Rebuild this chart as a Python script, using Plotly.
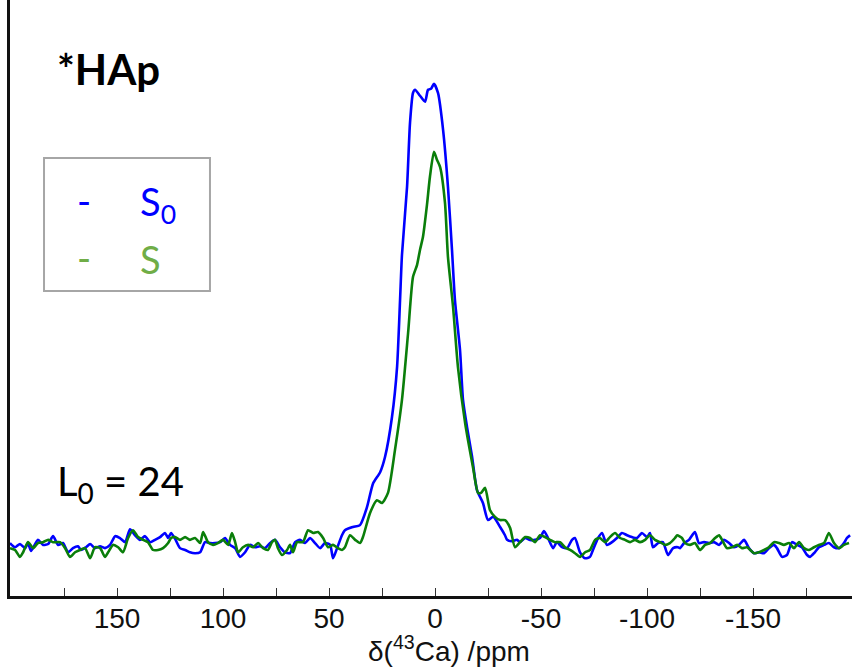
import plotly.graph_objects as go

# Blue series S0: chemical shift (ppm) and intensity (%, peak = 100)
s0_ppm = [200.5, 198.1, 195.8, 193.4, 192.0, 190.6, 187.3, 184.9, 182.5, 180.2, 177.8, 175.5, 173.1, 170.8,
          168.4, 167.0, 164.6, 162.7, 160.4, 158.0, 155.7, 153.3, 150.9, 148.6, 146.2, 143.9, 141.5, 139.2,
          136.8, 134.4, 132.1, 129.7, 127.4, 125.9, 124.5, 122.6, 120.3, 117.9, 115.6, 113.2, 110.8, 108.5,
          106.1, 103.8, 101.4, 99.1, 96.7, 94.3, 92.0, 89.6, 87.3, 84.9, 82.5, 80.2, 77.8, 75.5, 73.1, 70.8,
          68.4, 66.0, 63.7, 61.3, 59.0, 56.6, 54.2, 51.9, 49.5, 48.1, 46.2, 43.9, 42.5, 38.7, 35.4, 32.1,
          29.2, 25.9, 23.6, 20.3, 17.9, 16.5, 15.6, 13.2, 11.8, 10.4, 9.4, 7.1, 4.7, 3.3, 1.9, 0.5, -1.4,
          -3.8, -6.1, -8.0, -9.4, -11.8, -13.2, -15.1, -17.5, -19.8, -22.6, -25.0, -27.4, -30.7, -33.0,
          -34.0, -36.3, -38.7, -40.1, -42.5, -44.8, -47.2, -49.5, -51.4, -53.3, -55.7, -57.5, -59.9, -62.3,
          -64.6, -66.0, -68.4, -70.8, -73.1, -74.5, -76.9, -78.8, -81.1, -83.5, -85.8, -88.2, -90.6, -92.9,
          -95.3, -97.6, -100.0, -101.4, -102.8, -105.2, -107.5, -109.9, -112.3, -114.6, -115.6, -117.5,
          -119.8, -122.6, -124.5, -126.9, -129.2, -131.6, -134.0, -136.3, -138.7, -141.0, -143.4, -145.8,
          -148.1, -150.5, -152.8, -155.2, -157.5, -159.9, -161.3, -163.7, -166.0, -168.4, -170.8, -173.1,
          -175.5, -176.9, -179.2, -181.1, -183.5, -185.8, -188.2, -190.6, -192.9, -194.3, -195.8]
s0_int = [0, -0.9, -0.2, -1.1, 0, -1.7, 0.7, -0.4, -0.2, 1.5, -0.4, 0, -2.0, -1.1,
          -0.7, -1.5, -0.9, -0.2, -1.1, -0.7, -1.1, -0.4, 1.5, 1.1, 0.2, 3.0, 1.7, 0.7,
          1.5, 0.2, 0.7, 1.3, 2.2, 1.1, 2.2, 0.9, -1.1, -1.5, -2.0, -2.2, -2.0, 0.2,
          0, 0, 0.2, 1.1, -0.4, -1.1, -3.0, -2.0, -0.4, -0.9, -0.7, -1.1, 0, 0.7, -0.9, -2.0,
          -2.2, 0.2, 0.7, 0, 1.1, 0, -1.1, 0, -0.4, -3.3, -1.1, 1.7, 2.8, 3.5, 3.9, 7.8,
          13.0, 15.4, 18.7, 27.4, 38.3, 52.8, 62.6, 77.4, 91.3, 97.8, 98.5, 97.2, 95.9, 98.5, 98.7, 99.8, 97.8,
          89.8, 77.4, 63.7, 52.8, 41.9, 31.1, 25.2, 18.7, 11.5, 8.7, 5.0, 5.7, 3.5, 1.7,
          0.7, 0.4, 0.7, 0.2, 1.1, 0.7, 0.7, 1.1, 2.6, 1.1, -1.1, 0.2, -0.9, -1.1,
          0.7, 1.1, -2.0, -3.3, -3.0, -1.5, 1.1, 2.2, -0.4, 0.2, 1.1, 2.2, 1.7, 1.3,
          1.1, 2.2, 1.3, 2.2, -0.9, 0, 0.2, -2.6, -1.1, -0.9, -1.1, 0,
          0.7, 2.4, 0, 0.2, 0, 0.2, -0.4, 0.7, 0, -0.9, -0.4, 0.7,
          -1.1, -2.2, -2.0, -2.2, -1.1, -0.4, -1.1, -3.0, -2.6, 0.2, -0.4, -0.9,
          -2.6, -3.0, -2.0, -0.9, -0.4, 0, -0.9, -1.1, 0, 1.1, 1.7]

# Green series S
s_ppm = [200.5, 198.1, 195.8, 194.3, 192.0, 189.6, 187.3, 184.9, 182.5, 180.2, 176.9, 174.5, 172.2, 169.8,
         167.5, 165.1, 162.7, 160.4, 158.0, 155.7, 154.2, 151.9, 149.5, 147.2, 144.8, 142.5, 140.1, 137.7,
         135.4, 133.0, 130.7, 128.3, 125.9, 124.5, 122.6, 120.3, 117.9, 115.6, 113.2, 110.8, 109.4, 107.1,
         104.7, 102.4, 100.0, 97.6, 95.8, 94.3, 92.9, 90.6, 88.2, 85.8, 83.5, 81.1, 78.8, 76.9, 75.5, 74.1,
         72.2, 69.8, 68.4, 67.0, 65.1, 62.3, 59.9, 57.5, 55.2, 52.8, 50.5, 48.1, 45.8, 43.9, 42.5, 40.1,
         37.7, 35.4, 34.0, 30.7, 27.4, 25.0, 22.2, 18.9, 15.6, 12.7, 10.4, 8.5, 7.1, 5.7, 3.8, 2.4, 0.5,
         -0.9, -2.4, -4.7, -6.1, -8.5, -10.8, -14.2, -17.9, -20.3, -21.7, -23.6, -25.9, -28.3, -30.7, -33.0,
         -35.4, -37.7, -40.1, -42.5, -44.8, -47.2, -49.5, -51.9, -54.2, -56.6, -59.0, -61.3, -63.7, -66.0,
         -68.4, -70.8, -73.1, -75.5, -77.8, -80.2, -82.5, -84.9, -87.3, -89.6, -92.0, -94.3, -96.7, -99.1,
         -101.4, -103.8, -106.1, -108.5, -110.8, -113.2, -114.2, -116.5, -117.9, -120.3, -122.6, -125.0,
         -127.4, -129.7, -132.1, -134.0, -135.4, -137.7, -140.1, -142.5, -144.8, -147.2, -150.5, -152.8,
         -155.2, -157.5, -159.9, -162.3, -164.6, -167.0, -169.3, -171.7, -174.1, -176.4, -178.8, -181.1,
         -183.5, -185.8, -188.2, -190.6, -192.9, -195.3]
s_int = [-1.1, -1.5, -3.0, -2.0, 0.2, -1.1, 0, 0.2, 0.7, 0.2, 0.2, -1.1, -3.0, -2.0,
         -1.5, -1.1, -3.3, -0.9, -1.1, -3.0, -2.0, -0.4, -0.9, -2.0, 1.1, 2.8, 1.3, 0.7,
         0.2, -1.5, -1.5, -1.1, 0, 1.1, 1.3, 0.7, 1.3, 0.7, 1.1, 0, 2.4, 0.2,
         -0.4, 0, 0.7, -0.4, 2.2, 0.2, -2.0, -0.9, -0.4, -0.9, 0, -1.1, -1.5, 0.2, 0.7, -1.1,
         -2.6, -1.5, -0.4, -2.0, 0.2, 0.2, 2.8, 2.2, 2.4, 1.1, -0.9, -0.4, -1.1, -1.5, -0.9, 1.7,
         0.7, 0, 1.3, 6.5, 9.3, 8.7, 10.9, 20.2, 31.1, 45.7, 57.8, 60.4, 63.7, 66.5, 73.5, 79.6, 85.0,
         83.3, 81.7, 73.9, 62.2, 51.3, 38.3, 26.1, 16.5, 10.9, 10.9, 12.0, 7.2, 5.7, 5.0, 5.0,
         3.3, -0.9, 0.2, 1.3, 1.1, 0.2, 1.7, 1.3, 0.7, 0.2, 0.2, -0.9, -1.5, -2.2,
         -3.0, -2.0, -1.5, 0.7, 1.1, 0.2, 1.3, 2.2, 1.1, 0.7, 0.2, 0.7, 0.2, 0.7,
         1.7, 0.7, 0.2, -0.4, 0, 1.1, 1.7, 1.1, 0, -0.4, 0, -1.5,
         -0.4, 0, 1.1, 1.7, 0.7, -1.1, -0.9, -0.4, -1.1, -0.9, -2.2, -2.0,
         -1.5, -0.9, 0.2, 0, -0.4, 0, -1.1, 0.2, -1.1, -1.5, -0.9, -0.4,
         0, 2.2, 0, -1.1, -0.4, 0]

tick_vals = [175, 150, 125, 100, 75, 50, 25, 0, -25, -50, -75, -100, -125, -150, -175]
tick_text = ["", "150", "", "100", "", "50", "", "0", "", "-50", "", "-100", "", "-150", ""]

fig = go.Figure()
fig.add_trace(go.Scatter(x=s0_ppm, y=s0_int, mode="lines",
                         line=dict(color="#0000FF", width=2.6, shape="spline", smoothing=0.6),
                         showlegend=False))
fig.add_trace(go.Scatter(x=s_ppm, y=s_int, mode="lines",
                         line=dict(color="#0A7E0A", width=2.6, shape="spline", smoothing=0.6),
                         showlegend=False))

fig.update_layout(
    width=852, height=669,
    margin=dict(l=10, r=0, t=0, b=73),
    paper_bgcolor="white", plot_bgcolor="white",
    xaxis=dict(range=[200.5, -196.7], showgrid=False, zeroline=False,
               showline=True, linecolor="#111111", linewidth=2.5,
               ticks="inside", ticklen=8, tickwidth=1.2, tickcolor="#333333",
               tickvals=tick_vals, ticktext=tick_text, ticklabelstandoff=-4,
               tickfont=dict(family="Liberation Sans, Arial", size=28, color="#111111")),
    yaxis=dict(range=[-11.5, 118.0], showgrid=False, zeroline=False,
               showline=True, linecolor="#111111", linewidth=2.5,
               showticklabels=False, ticks=""),
    font=dict(family="Liberation Sans, Arial"),
)

fig.add_annotation(xref="paper", yref="paper", x=0.5208, y=-0.1205, xanchor="center", yanchor="bottom",
                   text="δ(<sup>43</sup>Ca) /ppm", showarrow=False, borderpad=0,
                   font=dict(family="Liberation Sans, Arial", size=28, color="#111111"))

fig.add_annotation(xref="paper", yref="paper", x=0.054, y=0.9295, xanchor="left", yanchor="top",
                   text="<b>*HAp</b>", showarrow=False,
                   font=dict(family="Lato", size=42, color="#000000"))

fig.add_annotation(xref="paper", yref="paper", x=0.054, y=0.188, xanchor="left", yanchor="middle",
                   text="L<sub>0</sub> = 24", showarrow=False,
                   font=dict(family="Lato", size=40, color="#000000"))

# legend box
fig.add_shape(type="rect", xref="paper", yref="paper", x0=0.0404, x1=0.2375, y0=0.5117, y1=0.735,
              line=dict(color="#A6A6A6", width=2), fillcolor="rgba(0,0,0,0)")
fig.add_annotation(xref="paper", yref="paper", x=0.088, y=0.664, xanchor="center", yanchor="middle",
                   text="-", showarrow=False, font=dict(family="Lato", size=38, color="#0000FF"))
fig.add_annotation(xref="paper", yref="paper", x=0.152, y=0.658, xanchor="left", yanchor="middle",
                   text="S<sub>0</sub>", showarrow=False, font=dict(family="Lato", size=38, color="#0000FF"))
fig.add_annotation(xref="paper", yref="paper", x=0.088, y=0.569, xanchor="center", yanchor="middle",
                   text="-", showarrow=False, font=dict(family="Lato", size=38, color="#70AD47"))
fig.add_annotation(xref="paper", yref="paper", x=0.152, y=0.565, xanchor="left", yanchor="middle",
                   text="S", showarrow=False, font=dict(family="Lato", size=38, color="#70AD47"))

fig.write_html("out.html")
